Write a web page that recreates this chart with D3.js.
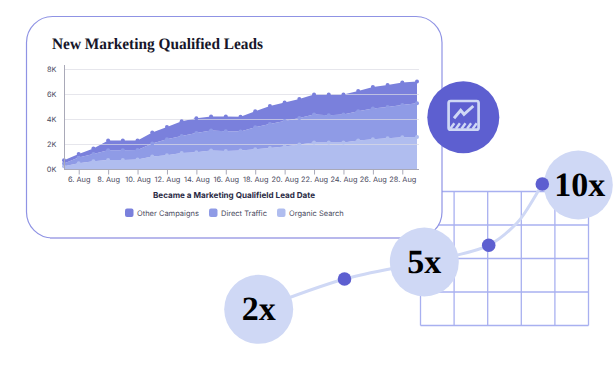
<!DOCTYPE html>
<html>
<head>
<meta charset="utf-8">
<script src="https://cdn.jsdelivr.net/npm/d3@7"></script>
<style>
  html, body { margin: 0; padding: 0; background: #fff; }
  svg { display: block; text-rendering: geometricPrecision; }
</style>
</head>
<body>
<div id="chart"></div>
<script>
// Chart values
var days = d3.range(5, 30);
var seriesNames = ["Other Campaigns", "Direct Traffic", "Organic Search"];
var organicSearch = [270, 510, 670, 770, 770, 800, 1040, 1150, 1330, 1390, 1520, 1490, 1520, 1630, 1730, 1840, 2000, 2160, 2160, 2160, 2320, 2430, 2510, 2590, 2610];
var directTraffic = [210, 450, 580, 780, 780, 770, 1040, 1280, 1360, 1540, 1600, 1580, 1520, 1760, 1920, 2050, 2130, 2240, 2190, 2240, 2350, 2450, 2500, 2580, 2700];
var otherCampaigns = [270, 290, 430, 770, 770, 750, 880, 980, 1180, 1170, 1120, 1170, 1180, 1280, 1440, 1470, 1520, 1600, 1650, 1600, 1620, 1730, 1760, 1790, 1730];
var yTicks = [0, 2000, 4000, 6000, 8000];
var xTicks = d3.range(6, 30, 2);
var bubbleLabels = ["2x", "5x", "10x"];

var colors = {
  "Other Campaigns": "#7a80dc",
  "Direct Traffic": "#8f9be6",
  "Organic Search": "#b0bdef"
};
var dark = "#2b2b45";
var labelFont = "Inter, sans-serif";
var serifFont = "'Liberation Serif', serif";

var svg = d3.select("#chart")
  .append("svg")
  .attr("width", 616)
  .attr("height", 366);

// Grid decoration behind the card
var gridX = d3.scaleLinear().domain([0, 5]).range([420.5, 588.5]);
var gridY = d3.scaleLinear().domain([0, 4]).range([191.5, 325.5]);
var grid = svg.append("g")
  .attr("stroke", "#a8b0f0")
  .attr("stroke-width", 1.3);

d3.range(0, 6).forEach(function(i) {
  grid.append("line")
    .attr("x1", gridX(i)).attr("x2", gridX(i))
    .attr("y1", gridY(0)).attr("y2", gridY(4));
});
d3.range(0, 5).forEach(function(i) {
  grid.append("line")
    .attr("x1", gridX(0)).attr("x2", gridX(5))
    .attr("y1", gridY(i)).attr("y2", gridY(i));
});

// Card
svg.append("rect")
  .attr("x", 26.5)
  .attr("y", 16.5)
  .attr("width", 415.5)
  .attr("height", 221.5)
  .attr("rx", 26)
  .attr("fill", "#fff")
  .attr("stroke", "#8f93e4")
  .attr("stroke-width", 1.2);

svg.append("line")
  .attr("x1", 50)
  .attr("x2", 418)
  .attr("y1", 238)
  .attr("y2", 238)
  .attr("stroke", "#b8b8ec")
  .attr("stroke-width", 2);

svg.append("text")
  .attr("x", 52)
  .attr("y", 49)
  .attr("font-family", serifFont)
  .attr("font-weight", "bold")
  .attr("font-size", 15.9)
  .attr("fill", "#16162a")
  .attr("textLength", 211)
  .attr("lengthAdjust", "spacingAndGlyphs")
  .text("New Marketing Qualified Leads");

// Scales
var xScale = d3.scaleLinear().domain([5, 29]).range([64, 417]);
var yScale = d3.scaleLinear().domain([0, 8000]).range([169.5, 69.5]);

// Stack with organic at the bottom
var table = days.map(function(d, i) {
  return {
    day: d,
    "Organic Search": organicSearch[i],
    "Direct Traffic": directTraffic[i],
    "Other Campaigns": otherCampaigns[i]
  };
});
var stacked = d3.stack().keys(seriesNames.slice().reverse())(table);

var area = d3.area()
  .x(d => xScale(d.data.day))
  .y0(d => yScale(d[0]))
  .y1(d => yScale(d[1]));

svg.append("g")
  .selectAll("path")
  .data(stacked)
  .enter()
  .append("path")
  .attr("d", area)
  .attr("fill", d => colors[d.key]);

// Gridlines sit on top of the areas
svg.append("g")
  .selectAll("line")
  .data(yTicks.slice(1))
  .enter()
  .append("line")
  .attr("x1", 64)
  .attr("x2", 419)
  .attr("y1", d => yScale(d))
  .attr("y2", d => yScale(d))
  .attr("stroke", "#dcdce4")
  .attr("stroke-opacity", 0.7)
  .attr("stroke-width", 1.2);

stacked.forEach(function(layer) {
  svg.append("g")
    .selectAll("circle")
    .data(layer)
    .enter()
    .append("circle")
    .attr("cx", d => xScale(d.data.day))
    .attr("cy", d => yScale(d[1]))
    .attr("r", 2)
    .attr("fill", colors[layer.key]);
});

// Axes
var xAxis = d3.axisBottom(xScale)
  .tickValues(xTicks)
  .tickSize(5)
  .tickSizeOuter(0)
  .tickPadding(2.5)
  .tickFormat(d => d + ". Aug");

var yAxis = d3.axisLeft(yScale)
  .tickValues(yTicks)
  .tickSize(0)
  .tickPadding(8)
  .tickFormat(d => (d / 1000) + "K");

var xAxisGroup = svg.append("g")
  .attr("transform", "translate(0, 169.5)")
  .call(xAxis);

xAxisGroup.select(".domain")
  .attr("d", "M64,0H419")
  .attr("stroke", "#a9a9b8")
  .attr("stroke-width", 1);

var yAxisGroup = svg.append("g")
  .attr("transform", "translate(64.5, 0)")
  .call(yAxis);

yAxisGroup.select(".domain")
  .attr("d", "M0,65V170")
  .attr("stroke", "#a9a9b8")
  .attr("stroke-width", 1);

svg.selectAll(".tick line").attr("stroke", "#a9a9b8");
svg.selectAll(".tick text")
  .attr("font-family", labelFont)
  .attr("font-size", 7.4)
  .attr("fill", "#4a4a60");

svg.append("text")
  .attr("x", 234)
  .attr("y", 198)
  .attr("text-anchor", "middle")
  .attr("font-family", labelFont)
  .attr("font-weight", "bold")
  .attr("font-size", 8.1)
  .attr("fill", dark)
  .text("Became a Marketing Qualifield Lead Date");

// Legend
var legendX = [125, 209, 277];
var legend = svg.append("g")
  .selectAll("g")
  .data(seriesNames)
  .enter()
  .append("g")
  .attr("transform", (d, i) => `translate(${legendX[i]}, 208.5)`);

legend.append("rect")
  .attr("width", 8.5)
  .attr("height", 8.5)
  .attr("rx", 2)
  .attr("fill", d => colors[d]);

legend.append("text")
  .attr("x", 12)
  .attr("y", 7.2)
  .attr("font-family", labelFont)
  .attr("font-size", 7.5)
  .attr("fill", "#4a4a60")
  .text(d => d);

// Growth path
var pathPoints = [[258.7, 309.3], [344.5, 279], [424.3, 262], [488.7, 245.3], [517, 223], [526, 211], [542.3, 184]];
svg.append("path")
  .attr("d", d3.line().curve(d3.curveCatmullRom)(pathPoints))
  .attr("fill", "none")
  .attr("stroke", "#cfd8f5")
  .attr("stroke-width", 3);

var bubbleSpots = [[258.7, 309.3], [424.3, 262], [578.3, 185]];
var labelNudge = [0, 0, 1.5];
var bubbles = svg.append("g")
  .selectAll("g")
  .data(bubbleLabels)
  .enter()
  .append("g")
  .attr("transform", (d, i) => `translate(${bubbleSpots[i][0]}, ${bubbleSpots[i][1]})`);

bubbles.append("circle")
  .attr("r", 34.5)
  .attr("fill", "#cfd8f5");

bubbles.append("text")
  .attr("text-anchor", "middle")
  .attr("x", (d, i) => labelNudge[i])
  .attr("y", 11)
  .attr("font-family", serifFont)
  .attr("font-weight", "bold")
  .attr("font-size", 34)
  .attr("fill", "#000")
  .text(d => d);

[[344.5, 279], [488.7, 245.3], [542.3, 184]].forEach(function(p) {
  svg.append("circle")
    .attr("cx", p[0])
    .attr("cy", p[1])
    .attr("r", 6.8)
    .attr("fill", "#5d5fd0");
});

// Icon badge
var icon = svg.append("g").attr("transform", "translate(463.3, 117.3)");
icon.append("circle").attr("r", 36).attr("fill", "#5d5fd0");
icon.append("rect")
  .attr("x", -14.7)
  .attr("y", -16.3)
  .attr("width", 30)
  .attr("height", 28.7)
  .attr("rx", 2)
  .attr("fill", "none")
  .attr("stroke", "#cfd8f5")
  .attr("stroke-width", 2.7);
icon.append("path")
  .attr("d", d3.line()([[-9.3, 1], [-2.6, -7], [0.7, -3], [10, -11.3]]))
  .attr("fill", "none")
  .attr("stroke", "#cfd8f5")
  .attr("stroke-width", 3);
d3.range(0, 5).forEach(function(i) {
  icon.append("path")
    .attr("d", d3.line()([[-13 + i * 5.6, 11.5], [-9 + i * 5.6, 6]]))
    .attr("stroke", "#cfd8f5")
    .attr("stroke-width", 2.4);
});
</script>
</body>
</html>
